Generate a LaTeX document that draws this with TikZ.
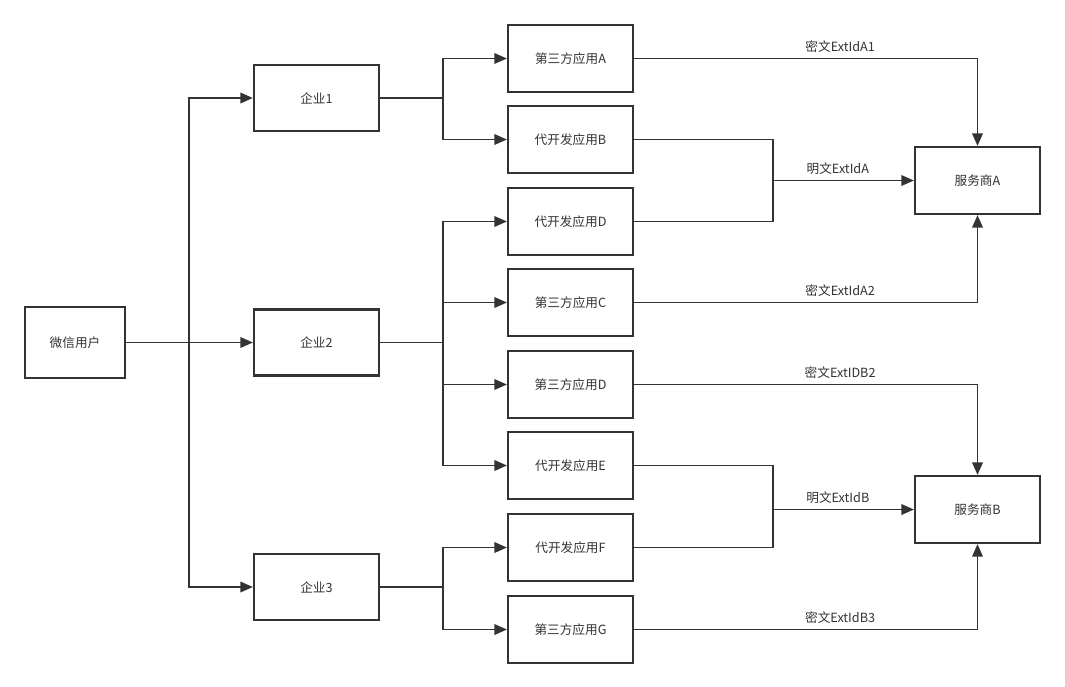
\documentclass[tikz,border=0pt]{standalone}
\usepackage{fontspec}
\setmainfont{Noto Sans CJK SC}
\usetikzlibrary{arrows.meta,positioning}
\definecolor{ink}{HTML}{333333}

\tikzset{
  box/.style={draw=ink,line width=1.5pt,fill=white,text=ink,font=\fontsize{9}{11}\selectfont,
    minimum width=3.125cm,minimum height=1.675cm,inner sep=0pt},
  arr/.style={draw=ink,line width=1.4pt,-{Triangle[length=9pt,width=7.5pt]}},
  link/.style={draw=ink,line width=1.4pt},
  lbl/.style={text=ink,font=\fontsize{9}{11}\selectfont,inner sep=3.5pt}
}

\begin{document}
\begin{tikzpicture}[x=0.025cm,y=-0.025cm]
  \useasboundingbox (0,0) rectangle (1065,686);

  % Left column: user and enterprises
  \node[box,minimum width=2.5cm,minimum height=1.775cm] (user) at (75,342.5) {微信用户};
  \node[box,minimum height=1.65cm] (ent1) at (316.5,98) {企业1};
  \node[box,minimum height=1.65cm] (ent2) at (316.5,342.5) {企业2};
  \node[box,minimum height=1.65cm] (ent3) at (316.5,587) {企业3};

  % Middle column: applications
  \node[box] (appA) at (570.5,58.5) {第三方应用A};
  \node[box] (appB) at (570.5,139.5) {代开发应用B};
  \node[box] (appD) at (570.5,221.5) {代开发应用D};
  \node[box] (appC) at (570.5,302.5) {第三方应用C};
  \node[box] (appDt) at (570.5,384.5) {第三方应用D};
  \node[box] (appE) at (570.5,465.5) {代开发应用E};
  \node[box] (appF) at (570.5,547.5) {代开发应用F};
  \node[box] (appG) at (570.5,629.5) {第三方应用G};

  % Right column: service providers
  \node[box] (spA) at (977.5,180.5) {服务商A};
  \node[box] (spB) at (977.5,509.5) {服务商B};

  % Branch points
  \coordinate (trunk) at (189,342.5);
  \coordinate (split1) at (443,98);
  \coordinate (split2) at (443,342.5);
  \coordinate (split3) at (443,587);
  \coordinate (joinA) at (773,180.5);
  \coordinate (joinB) at (773,509.5);

  % User to enterprises
  \draw[arr] (user.east) -- (ent2.west);
  \draw[arr] (trunk) |- (ent1.west);
  \draw[arr] (trunk) |- (ent3.west);

  % Enterprises to applications
  \draw[link] (ent1.east) -- (split1);
  \draw[arr] (split1) |- (appA.west);
  \draw[arr] (split1) |- (appB.west);
  \draw[link] (ent2.east) -- (split2);
  \draw[arr] (split2) |- (appD.west);
  \draw[arr] (split2) |- (appC.west);
  \draw[arr] (split2) |- (appDt.west);
  \draw[arr] (split2) |- (appE.west);
  \draw[link] (ent3.east) -- (split3);
  \draw[arr] (split3) |- (appF.west);
  \draw[arr] (split3) |- (appG.west);

  % Applications to service providers
  \draw[arr] (appA.east) -| node[lbl,pos=0.3,above] {密文ExtIdA1} (spA.north);
  \draw[link] (appB.east) -| (joinA);
  \draw[link] (appD.east) -| (joinA);
  \draw[arr] (joinA) -- node[lbl,pos=0.46,above] {明文ExtIdA} (spA.west);
  \draw[arr] (appC.east) -| node[lbl,pos=0.3,above] {密文ExtIdA2} (spA.south);

  \draw[arr] (appDt.east) -| node[lbl,pos=0.3,above] {密文ExtIDB2} (spB.north);
  \draw[link] (appE.east) -| (joinB);
  \draw[link] (appF.east) -| (joinB);
  \draw[arr] (joinB) -- node[lbl,pos=0.46,above] {明文ExtIdB} (spB.west);
  \draw[arr] (appG.east) -| node[lbl,pos=0.3,above] {密文ExtIdB3} (spB.south);
\end{tikzpicture}
\end{document}
